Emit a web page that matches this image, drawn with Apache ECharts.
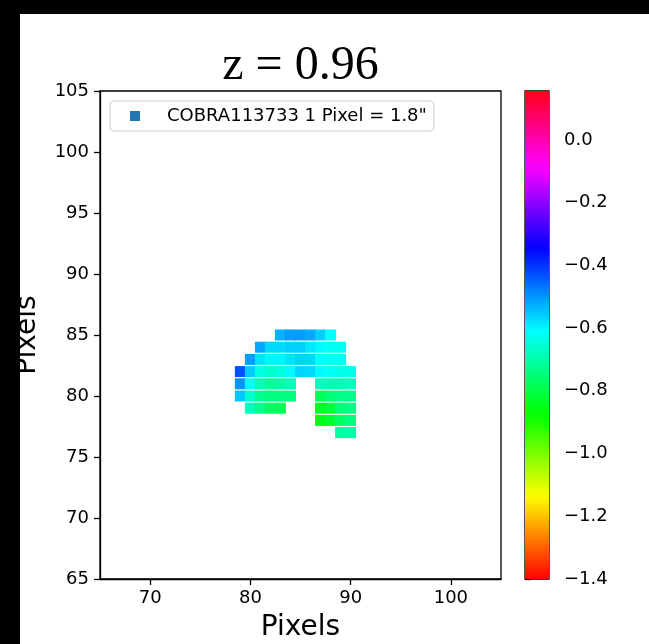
<!DOCTYPE html>
<html><head><meta charset="utf-8">
<script src="https://cdn.jsdelivr.net/npm/echarts@6/dist/echarts.min.js"></script>
<style>html,body{margin:0;padding:0;background:#fff}#c{width:649px;height:644px}</style>
</head><body><div id="c"></div>
<script>
// ---- data ----
const cellX = [
  83,84,85,86,87,88,
  81,82,83,84,85,86,87,88,89,
  80,81,82,83,84,85,86,87,88,89,
  79,80,81,82,83,84,85,86,87,88,89,90,
  79,80,81,82,83,84,87,88,89,90,
  79,80,81,82,83,84,87,88,89,90,
  80,81,82,83,87,88,89,90,
  87,88,89,90,
  89,90
];
const cellY = [
  85,85,85,85,85,85,
  84,84,84,84,84,84,84,84,84,
  83,83,83,83,83,83,83,83,83,83,
  82,82,82,82,82,82,82,82,82,82,82,82,
  81,81,81,81,81,81,81,81,81,81,
  80,80,80,80,80,80,80,80,80,80,
  79,79,79,79,79,79,79,79,
  78,78,78,78,
  77,77
];
const cellValue = [
  -0.53,-0.51,-0.51,-0.52,-0.56,-0.61,
  -0.52,-0.57,-0.57,-0.56,-0.56,-0.585,-0.605,-0.62,-0.62,
  -0.51,-0.58,-0.60,-0.60,-0.58,-0.565,-0.57,-0.61,-0.62,-0.62,
  -0.43,-0.557,-0.64,-0.66,-0.645,-0.605,-0.566,-0.57,-0.605,-0.62,-0.63,-0.63,
  -0.50,-0.615,-0.687,-0.717,-0.708,-0.678,-0.68,-0.687,-0.687,-0.68,
  -0.553,-0.66,-0.726,-0.743,-0.743,-0.743,-0.782,-0.752,-0.735,-0.726,
  -0.674,-0.726,-0.769,-0.782,-0.842,-0.817,-0.752,-0.735,
  -0.847,-0.825,-0.77,-0.743,
  -0.704,-0.70
];
const xTicks = [70, 80, 90, 100];
const cbarMin = -1.4, cbarMax = 0.156;
const seriesName = 'COBRA113733 1 Pixel = 1.8"';
const titleText = 'z = 0.96';

// ---- matplotlib 'hsv' colormap ----
const hsvSeg = {
  r: [[0,1,1],[0.158730,1,1],[0.174603,0.96875,0.96875],[0.333333,0.03125,0.03125],[0.349206,0,0],[0.666667,0,0],[0.682540,0.03125,0.03125],[0.841270,0.96875,0.96875],[0.857143,1,1],[1,1,1]],
  g: [[0,0,0],[0.158730,0.9375,0.9375],[0.174603,1,1],[0.507937,1,1],[0.666667,0.0625,0.0625],[0.682540,0,0],[1,0,0]],
  b: [[0,0,0],[0.333333,0,0],[0.349206,0.0625,0.0625],[0.507937,1,1],[0.841270,1,1],[0.857143,0.9375,0.9375],[1,0.09375,0.09375]]
};
function segVal(seg, t) {
  for (let i = 0; i < seg.length - 1; i++) {
    if (t >= seg[i][0] && t <= seg[i + 1][0]) {
      const f = (t - seg[i][0]) / (seg[i + 1][0] - seg[i][0]);
      return seg[i][2] + f * (seg[i + 1][1] - seg[i][2]);
    }
  }
  return seg[seg.length - 1][1];
}
function cmap(t) {
  const c = [segVal(hsvSeg.r, t), segVal(hsvSeg.g, t), segVal(hsvSeg.b, t)].map(v => Math.round(v * 255));
  return 'rgb(' + c.join(',') + ')';
}
const N = 129;
const cmapColors = [];
for (let k = 0; k < N; k++) cmapColors.push(cmap(k / (N - 1)));
const gradStops = [];
for (let k = 0; k < N; k++) gradStops.push({ offset: k / (N - 1), color: cmap(1 - k / (N - 1)) });

const scatterData = cellX.map((x, i) => [x, cellY[i], cellValue[i]]);

const FONT = 'DejaVu Sans';
const TICK_FS = 18;
const chart = echarts.init(document.getElementById('c'), null, { renderer: 'canvas' });
chart.setOption({
  animation: false,
  backgroundColor: '#fff',
  textStyle: { fontFamily: FONT, color: '#000' },
  grid: [
    { left: 100, top: 91, width: 401, height: 488, outerBoundsMode: 'none', containLabel: false, show: true, borderColor: '#000', borderWidth: 1.3, backgroundColor: 'transparent' },
    { left: 525, top: 91, width: 24, height: 488, outerBoundsMode: 'none', containLabel: false, show: true, borderColor: '#000', borderWidth: 1.3, backgroundColor: 'transparent' }
  ],
  xAxis: [
    {
      type: 'value', gridIndex: 0, min: 65, max: 105,
      axisLine: { show: true, lineStyle: { color: '#000', width: 1.3 } },
      axisTick: { show: true, inside: false, length: 6, lineStyle: { color: '#000', width: 1.3 }, customValues: xTicks },
      axisLabel: { show: true, fontSize: TICK_FS, fontFamily: FONT, color: '#000', margin: 10, customValues: xTicks },
      splitLine: { show: false },
      name: 'Pixels', nameLocation: 'middle', nameGap: 35,
      nameTextStyle: { fontSize: 28, fontFamily: FONT, color: '#000' }
    },
    { type: 'value', gridIndex: 1, min: 0, max: 1, show: false },
    {
      type: 'value', gridIndex: 0, position: 'top', min: 65, max: 105,
      axisLine: { show: false }, axisTick: { show: false }, axisLabel: { show: false }, splitLine: { show: false },
      name: titleText, nameLocation: 'middle', nameGap: 1,
      nameTextStyle: { fontSize: 48, fontFamily: 'Liberation Serif', color: '#000' }
    }
  ],
  yAxis: [
    {
      type: 'value', gridIndex: 0, min: 65, max: 105, interval: 5,
      axisLine: { show: true, lineStyle: { color: '#000', width: 1.3 } },
      axisTick: { show: true, inside: false, length: 6, lineStyle: { color: '#000', width: 1.3 } },
      axisLabel: { fontSize: TICK_FS, fontFamily: FONT, color: '#000', margin: 11 },
      splitLine: { show: false },
      name: 'Pixels', nameLocation: 'middle', nameGap: 58,
      nameTextStyle: { fontSize: 28, fontFamily: FONT, color: '#000' }
    },
    {
      type: 'value', gridIndex: 1, position: 'right', min: cbarMin, max: cbarMax, interval: 0.2,
      axisLine: { show: false },
      axisTick: { show: true, inside: false, length: 6, lineStyle: { color: '#000', width: 1.3 } },
      axisLabel: {
        fontSize: TICK_FS, fontFamily: FONT, color: '#000', margin: 15, showMaxLabel: false,
        formatter: v => { if (v > cbarMax - 1e-9) return ''; const r = Math.abs(v) < 1e-9 ? 0 : v; return r.toFixed(1).replace('-', '\u2212'); }
      },
      splitLine: { show: false }
    }
  ],
  visualMap: {
    type: 'continuous', show: false, seriesIndex: 0, dimension: 2,
    min: cbarMin, max: cbarMax, inRange: { color: cmapColors }
  },
  legend: {
    left: 110, top: 101, orient: 'horizontal', selectedMode: false,
    itemWidth: 10, itemHeight: 10,
    padding: [6, 7, 6, 20],
    backgroundColor: 'rgba(255,255,255,0.8)', borderColor: '#cccccc', borderWidth: 1, borderRadius: 4,
    textStyle: { fontSize: TICK_FS, fontFamily: FONT, color: '#000', padding: [0, 0, 0, 22], lineHeight: 18 },
    data: [{ name: seriesName, icon: 'rect', itemStyle: { color: '#1f77b4' } }]
  },
  series: [
    {
      name: seriesName, type: 'scatter', xAxisIndex: 0, yAxisIndex: 0,
      symbol: 'rect', symbolSize: 11, data: scatterData,
      itemStyle: { opacity: 1, color: '#1f77b4' }, emphasis: { disabled: true }, z: 3
    },
    {
      type: 'custom', xAxisIndex: 1, yAxisIndex: 1, data: [[0, 1]], silent: true,
      renderItem: (params, api) => {
        const p0 = api.coord([0, cbarMax]);
        const p1 = api.coord([1, cbarMin]);
        return {
          type: 'rect',
          shape: { x: p0[0], y: p0[1], width: p1[0] - p0[0], height: p1[1] - p0[1] },
          style: { fill: new echarts.graphic.LinearGradient(0, 0, 0, 1, gradStops) }
        };
      }
    }
  ],
  graphic: [
    { type: 'rect', z: 100, shape: { x: 0, y: 0, width: 649, height: 14 }, style: { fill: '#000' } },
    { type: 'rect', z: 100, shape: { x: 0, y: 0, width: 20, height: 644 }, style: { fill: '#000' } }
  ]
});
</script></body></html>
